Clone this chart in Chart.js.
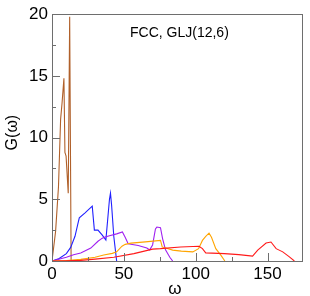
<!DOCTYPE html>
<html><head><meta charset="utf-8">
<script src="https://cdn.jsdelivr.net/npm/chart.js@4.4.0/dist/chart.umd.min.js"></script>
<style>html,body{margin:0;padding:0;background:#fff}#wrap{width:310px;height:296px}</style>
</head><body><div id="wrap"><canvas id="c" width="310" height="296"></canvas></div>
<script>
// Series data (omega, G(omega))
const brownX = [0, 2.5, 4.5, 6, 7, 8.3, 9, 9.8, 11.3, 12.3, 13.3];
const brownY = [0, 2.4, 6, 11.5, 12.8, 14.8, 8.8, 8.5, 5.5, 19.8, 0];
const blueX = [0, 5, 10, 13, 16, 18, 19, 23, 28, 29.5, 32, 35, 37.5, 40, 40.7, 41.5, 43, 45];
const blueY = [0, 0.2, 0.6, 1.1, 2.0, 3.0, 3.5, 3.9, 4.45, 2.5, 2.5, 2.1, 1.7, 5.0, 5.5, 4.5, 2.0, 0];
const purpleX = [0, 10, 15, 20, 27, 32, 35, 37, 40, 45, 49, 51, 53, 60, 66, 68, 70, 72, 73, 75.5, 77, 79, 82, 84];
const purpleY = [0, 0.3, 0.5, 0.65, 1.05, 1.6, 1.85, 1.95, 2.05, 2.2, 2.35, 1.9, 1.4, 1.25, 1.05, 0.9, 1.3, 2.6, 2.75, 2.7, 1.8, 0.9, 0.3, 0];
const orangeX = [0, 10, 20, 30, 36, 42, 45, 48.7, 51, 55, 65, 75.5, 76.7, 84, 90, 98, 102, 104.7, 107, 109.3, 111, 114, 117.5, 120.3];
const orangeY = [0, 0.03, 0.13, 0.3, 0.48, 0.62, 0.74, 1.2, 1.35, 1.45, 1.55, 1.67, 1.14, 0.88, 0.8, 0.74, 1.0, 1.67, 2.0, 2.26, 1.93, 1.0, 0.48, 0];
const redX = [0, 10, 20, 30, 43, 57, 70, 75.5, 89.5, 102.3, 104.7, 107, 120, 130, 139.6, 143.2, 149, 152.4, 156, 160.6, 165, 168.7];
const redY = [0, 0.02, 0.05, 0.15, 0.3, 0.6, 0.96, 1.0, 1.14, 1.2, 1.0, 0.66, 0.6, 0.52, 0.4, 0.88, 1.46, 1.54, 1.0, 0.74, 0.35, 0];

const xTickLabels = [0, 50, 100, 150];
const xMinorTicks = [25, 75, 125, 175];
const yTickLabels = [0, 5, 10, 15, 20];
const yMinorTicks = [2.5, 7.5, 12.5, 17.5];
const annotationText = "FCC, GLJ(12,6)";
const yTitleText = "G(ω)";
const xTitleText = "ω";

const pts = (xs, ys) => xs.map((x, i) => ({x, y: ys[i]}));
const FONT = "'Liberation Sans', Arial, Helvetica, sans-serif";
const FRAME = '#6e6e6e';

const framePlugin = {
  id: 'frame',
  afterDatasetsDraw(chart) {
    const {ctx, chartArea: a, scales} = chart;
    ctx.save();
    ctx.strokeStyle = FRAME;
    ctx.lineWidth = 1;
    ctx.beginPath();
    const drawX = (v, len) => {
      const px = Math.round(scales.x.getPixelForValue(v)) + 0.5;
      ctx.moveTo(px, a.bottom); ctx.lineTo(px, a.bottom - len);
    };
    const drawY = (v, len) => {
      const py = Math.round(scales.y.getPixelForValue(v)) + 0.5;
      ctx.moveTo(a.left, py); ctx.lineTo(a.left + len, py);
    };
    xTickLabels.forEach(v => drawX(v, 8));
    xMinorTicks.forEach(v => { if (v < scales.x.max) drawX(v, 4); });
    yTickLabels.forEach(v => drawY(v, 8));
    yMinorTicks.forEach(v => drawY(v, 4));
    ctx.stroke();
    ctx.strokeRect(Math.round(a.left) + 0.5, Math.round(a.top) + 0.5, Math.round(a.right - a.left), Math.round(a.bottom - a.top));
    ctx.fillStyle = '#000';
    ctx.font = '14px ' + FONT;
    ctx.textBaseline = 'alphabetic';
    ctx.textAlign = 'left';
    ctx.fillText(annotationText, 130, 37);
    // axis titles
    ctx.font = '16px ' + FONT;
    ctx.textAlign = 'center';
    ctx.textBaseline = 'middle';
    ctx.save();
    ctx.translate(13, (a.top + a.bottom) / 2 - 5);
    ctx.rotate(-Math.PI / 2);
    ctx.fillText(yTitleText, 0, 0);
    ctx.restore();
    ctx.font = '17px ' + FONT;
    ctx.fillText(xTitleText, (a.left + a.right) / 2 - 2, 289);
    ctx.restore();
  }
};

const mk = (label, xs, ys, color) => ({
  label, data: pts(xs, ys), borderColor: color, backgroundColor: color,
  borderWidth: 1.1, pointRadius: 0, tension: 0, fill: false
});

new Chart(document.getElementById('c'), {
  type: 'line',
  data: {
    datasets: [
      mk('red', redX, redY, '#ff1a1a'),
      mk('orange', orangeX, orangeY, '#ffa500'),
      mk('purple', purpleX, purpleY, '#a020f0'),
      mk('blue', blueX, blueY, '#2020ff'),
      mk('brown', brownX, brownY, '#b0602a')
    ]
  },
  options: {
    responsive: false, animation: false, devicePixelRatio: 1,
    layout: {padding: {left: 0, right: 8, top: 10, bottom: 0}},
    plugins: {legend: {display: false}, tooltip: {enabled: false}},
    scales: {
      x: {
        type: 'linear', min: 0, max: 174,
        afterFit(s) { s.height = 35; },
        afterBuildTicks(s) { s.ticks = xTickLabels.map(v => ({value: v})); },
        grid: {display: false, drawTicks: false},
        border: {display: false},
        ticks: {color: '#000', font: {family: FONT, size: 17}, padding: 3, maxRotation: 0, autoSkip: false},
        title: {display: false}
      },
      y: {
        type: 'linear', min: 0, max: 20,
        afterFit(s) { s.width = 52; },
        afterBuildTicks(s) { s.ticks = yTickLabels.map(v => ({value: v})); },
        grid: {display: false, drawTicks: false},
        border: {display: false},
        ticks: {color: '#000', font: {family: FONT, size: 17}, padding: 4},
        title: {display: false}
      }
    }
  },
  plugins: [framePlugin]
});
</script></body></html>
